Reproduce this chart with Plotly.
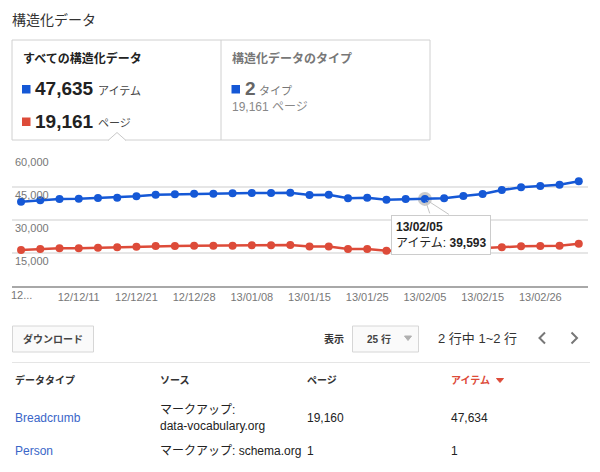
import plotly.graph_objects as go

# ---------------- data ----------------
dates = ["12/12/01", "12/12/04", "12/12/08", "12/12/11", "12/12/14", "12/12/18",
         "12/12/21", "12/12/23", "12/12/25", "12/12/28", "13/01/01", "13/01/04",
         "13/01/08", "13/01/10", "13/01/12", "13/01/15", "13/01/18", "13/01/22",
         "13/01/25", "13/01/29", "13/02/01", "13/02/05", "13/02/08", "13/02/12",
         "13/02/15", "13/02/19", "13/02/22", "13/02/26", "13/03/01", "13/03/04"]
items = [38315, 38950, 39540, 39680, 40000, 40130, 40770, 41500, 41680, 41950,
         41950, 42130, 42270, 42270, 42400, 41360, 41500, 39860, 40130, 39220,
         39540, 39593, 39900, 40900, 41810, 43630, 44860, 45450, 46040, 47635]
pages = [16360, 16820, 17130, 17130, 17410, 17590, 17860, 18180, 18180, 18320,
         18320, 18320, 18500, 18500, 18630, 17900, 18000, 16820, 16820, 16040,
         16130, 16230, 16360, 16820, 17270, 17590, 18040, 18180, 18320, 19161]
x_tick_index = [0, 3, 6, 9, 12, 15, 18, 21, 24, 27]
x_tick_text = ["12...", "12/12/11", "12/12/21", "12/12/28", "13/01/08",
               "13/01/15", "13/01/25", "13/02/05", "13/02/15", "13/02/26"]
y_tick_vals = [15000, 30000, 45000, 60000]
y_tick_text = ["15,000", "30,000", "45,000", "60,000"]
hover_index = 21

total_items = "47,635"
total_pages = "19,161"
type_count = "2"

col_headers = ["データタイプ", "ソース", "ページ", "アイテム"]
row_types = ["Breadcrumb", "Person"]
row_sources = ["マークアップ:<br>data-vocabulary.org", "マークアップ: schema.org"]
row_pages = ["19,160", "1"]
row_items = ["47,634", "1"]

# ---------------- style ----------------
FONT = "Arial, 'Liberation Sans', 'Noto Sans CJK JP', sans-serif"
BLUE = "#1558d6"
RED = "#dd4b39"
LINK = "#3a66c8"
OFF = 8                      # page body margin of the browser
W, H = 600 - OFF, 472 - OFF  # figure size so that it fills the window
L, R, T, B = 12, 588, 154, 286  # plot area in window pixels


def px(x):
    return (x - L) / (R - L)


def py(y):
    return (B - y) / (B - T)


def txt(x, y, s, size, color, xanchor="left"):
    return dict(x=px(x), y=py(y), xref="paper", yref="paper", text=s,
                showarrow=False, xanchor=xanchor, yanchor="middle", borderpad=0,
                font=dict(size=size, color=color, family=FONT), align="left")


def rect(x0, y0, x1, y1, line="#d0d0d0", fill="rgba(0,0,0,0)", lw=1):
    return dict(type="rect", xref="paper", yref="paper", x0=px(x0), x1=px(x1),
                y0=py(y0), y1=py(y1), line=dict(color=line, width=lw),
                fillcolor=fill, layer="above")


def seg(points, color, lw=1, fill=None):
    d = "M " + " L ".join(f"{px(a)},{py(b)}" for a, b in points)
    s = dict(type="path", xref="paper", yref="paper", path=d,
             line=dict(color=color, width=lw), layer="above")
    if fill:
        s["path"] += " Z"
        s["fillcolor"] = fill
    return s


fig = go.Figure()

# hover ring behind the hovered point
fig.add_trace(go.Scatter(x=[dates[hover_index]], y=[items[hover_index]], mode="markers",
                         marker=dict(size=14, color="rgba(160,160,160,0.55)"),
                         hoverinfo="skip", showlegend=False, cliponaxis=False))
fig.add_trace(go.Scatter(x=dates, y=pages, mode="lines+markers", name="ページ",
                         line=dict(color=RED, width=2.5), marker=dict(size=8, color=RED),
                         showlegend=False, cliponaxis=False))
fig.add_trace(go.Scatter(x=dates, y=items, mode="lines+markers", name="アイテム",
                         line=dict(color=BLUE, width=2.5), marker=dict(size=8, color=BLUE),
                         showlegend=False, cliponaxis=False))

shapes = []
# summary box
shapes.append(rect(12, 40, 430, 140))
shapes.append(seg([(221, 40), (221, 140)], "#d0d0d0"))
shapes.append(seg([(108.5, 140), (125.5, 140)], "#ffffff", lw=2))
shapes.append(seg([(108, 140.5), (117, 132.5), (126, 140.5)], "#c8c8c8"))
shapes.append(rect(22, 85, 30.5, 93.5, line=BLUE, fill=BLUE, lw=0))
shapes.append(rect(22, 117.5, 30.5, 126, line=RED, fill=RED, lw=0))
shapes.append(rect(231.5, 85, 240, 93.5, line=BLUE, fill=BLUE, lw=0))
# controls
shapes.append(rect(12.5, 326, 93.5, 352, line="#d6d6d6", fill="#fafafa"))
shapes.append(rect(352.5, 326, 418.5, 352, line="#d6d6d6", fill="#fafafa"))
shapes.append(seg([(404.5, 336), (411.5, 336), (408, 340.5)], "#b0b0b0", fill="#b0b0b0"))
shapes.append(seg([(545, 332.5), (539.5, 338), (545, 343.5)], "#777777", lw=2))
shapes.append(seg([(571.5, 332.5), (577, 338), (571.5, 343.5)], "#777777", lw=2))
shapes.append(seg([(12, 362.5), (590, 362.5)], "#e5e5e5"))
shapes.append(seg([(496.5, 378.5), (503.5, 378.5), (500, 382.5)], RED, fill=RED))

ann = []
ann.append(txt(11, 20, "構造化データ", 14, "#333333"))
ann.append(txt(22, 58, "<b>すべての構造化データ</b>", 12, "#222222"))
ann.append(txt(34, 88.5, f"<b>{total_items}</b>", 19, "#222222"))
ann.append(txt(97, 90.5, "アイテム", 11, "#444444"))
ann.append(txt(34, 121.5, f"<b>{total_pages}</b>", 19, "#222222"))
ann.append(txt(97, 123, "ページ", 11, "#444444"))
ann.append(txt(231, 58, "<b>構造化データのタイプ</b>", 12, "#777777"))
ann.append(txt(244, 88.5, f"<b>{type_count}</b>", 19, "#666666"))
ann.append(txt(258, 90.5, "タイプ", 11, "#777777"))
ann.append(txt(231, 106.5, f"{total_pages} ページ", 12, "#888888"))

# first x tick label (plotly hides it next to the inside y labels), placed at its category
ann.append(dict(x=dates[x_tick_index[0]], y=0, xref="x", yref="y", text=x_tick_text[0],
                showarrow=False, xanchor="center", yanchor="top", yshift=-2, borderpad=0,
                font=dict(size=11, color="#777777", family=FONT)))

# tooltip (anchored to hovered data point)
for dx in (5.5, 25.5):
    ann.append(dict(x=dates[hover_index], y=items[hover_index], xref="x", yref="y",
                    text=" ", showarrow=True, ax=dx, ay=16.5, arrowhead=0,
                    arrowwidth=1, arrowcolor="#c4c4c4", standoff=3,
                    font=dict(size=1), bgcolor="rgba(0,0,0,0)"))
ann.append(dict(x=dates[hover_index], y=items[hover_index], xref="x", yref="y",
                text=f"<b>{dates[hover_index]}</b><br>アイテム: <b>{items[hover_index]:,}</b>",
                showarrow=False, xshift=16.5, yshift=-36.5, align="left",
                bgcolor="#ffffff", bordercolor="#cccccc", borderwidth=1, borderpad=4,
                font=dict(size=12, color="#222222", family=FONT)))

# controls text
ann.append(txt(52.5, 338.5, "<b>ダウンロード</b>", 10, "#444444", xanchor="center"))
ann.append(txt(323, 338.5, "<b>表示</b>", 10, "#333333"))
ann.append(txt(366, 338.5, "<b>25 行</b>", 10, "#444444"))
ann.append(txt(437, 338, "2 行中 1~2 行", 13, "#333333"))

# table
col_x = [14, 158.5, 305.5, 449.5]
for i, h in enumerate(col_headers):
    ann.append(txt(col_x[i], 380, f"<b>{h}</b>", 10, RED if i == 3 else "#333333"))
row_y = [417.5, 451]
for r in range(len(row_types)):
    ann.append(txt(col_x[0], row_y[r], row_types[r], 12, LINK))
    ann.append(txt(col_x[1], row_y[r], row_sources[r], 12, "#222222"))
    ann.append(txt(col_x[2], row_y[r], row_pages[r], 12, "#222222"))
    ann.append(txt(col_x[3], row_y[r], row_items[r], 12, "#222222"))

fig.update_layout(
    width=W, height=H,
    margin=dict(l=L - OFF, r=W - (R - OFF), t=T - OFF, b=H - (B - OFF), pad=0,
                autoexpand=False),
    paper_bgcolor="#ffffff", plot_bgcolor="#ffffff",
    font=dict(family=FONT, size=11, color="#777777"),
    showlegend=False,
    xaxis=dict(type="category", categoryorder="array", categoryarray=dates,
               range=[-0.47, 29.48],
               tickvals=[dates[i] for i in x_tick_index[1:]], ticktext=x_tick_text[1:],
               showgrid=False, zeroline=False, showline=True, linecolor="#a8a8a8",
               linewidth=2, ticks="", tickfont=dict(size=11, color="#777777")),
    yaxis=dict(range=[0, 60000], tickvals=y_tick_vals, ticktext=y_tick_text,
               showgrid=True, gridcolor="#e6e6e6", gridwidth=2, zeroline=False,
               showline=False, ticks="", ticklabelposition="inside bottom",
               tickfont=dict(size=11, color="#777777")),
    shapes=shapes, annotations=ann,
)

fig.write_html("out.html")
